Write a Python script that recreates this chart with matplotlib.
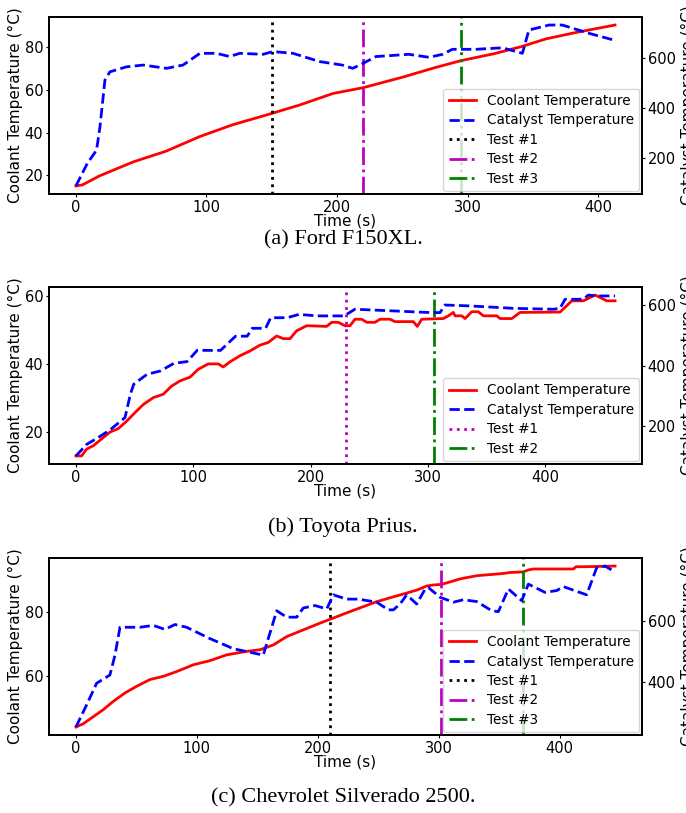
import numpy as np
import matplotlib
matplotlib.use("Agg")
import matplotlib.pyplot as plt
from matplotlib.ticker import MultipleLocator, FixedLocator

# ---- (a) Ford F150XL ----
t_a_cool = [0, 5, 18, 44, 69, 95, 120, 146, 171, 197, 220, 250, 275, 295, 320, 342, 360, 383, 400, 413]
a_cool = [15, 15.5, 19.7, 26.3, 31.3, 38.2, 43.7, 48.3, 52.9, 58.4, 61.1, 66, 70.5, 73.8, 77, 80.5, 84, 87, 89, 90.5]
t_a_cat = [0, 8.7, 15.8, 18.4, 22.2, 26, 38.7, 51.5, 69.4, 82, 95, 107.6, 117.8, 125.5, 143.3, 150.9, 166.2,
           186.7, 204, 212, 220, 229.8, 255, 270.6, 280.8, 288.4, 306.3, 326.7, 342, 347, 362.4, 372.6, 393, 412]
a_cat = [90, 180, 233, 326, 513, 546, 566, 573, 560, 573, 620, 620, 607, 620, 616, 627, 620,
         587, 573, 560, 580, 607, 616, 604, 616, 636, 636, 642, 620, 713, 733, 733, 700, 673]
a_tests = [150, 220, 295]

# ---- (b) Toyota Prius ----
t_b_cool = [0, 4.8, 9.1, 14.8, 21.9, 29, 36, 43.2, 50.3, 57.4, 65.9, 74.4, 81.5, 88.6, 97.1, 104.2, 112.7,
            121.3, 125.5, 131.2, 139.8, 148.3, 156.8, 163.9, 171, 176.7, 182.4, 188, 196.6, 213.6, 217.9,
            223.5, 229.2, 233.5, 237.7, 243.4, 247.7, 254.8, 259, 267.6, 271.8, 287.4, 290.8, 294.6, 313,
            317.3, 321.5, 323, 328.7, 331.5, 337.2, 342.8, 347.1, 358.5, 361.3, 371.3, 378.4, 412.4, 416.7,
            422.4, 432.3, 442.3, 446.5, 452.2, 459.3]
b_cool = [13, 13, 15, 16, 18, 20, 21, 23.2, 25.7, 28.1, 30.1, 31.1, 33.5, 35, 36.1, 38.4, 40,
          40, 39.1, 40.6, 42.4, 43.8, 45.5, 46.3, 48.2, 47.4, 47.4, 49.7, 51.2, 51, 52.2,
          52.2, 51.2, 51.2, 53.1, 53.1, 52.2, 52.2, 53.1, 53.1, 52.4, 52.4, 51, 53.1, 53.3,
          54.1, 55.1, 54.1, 54.1, 53.3, 55.3, 55.3, 54.1, 54.1, 53.3, 53.3, 55.1, 55.2, 56.6,
          58.5, 58.5, 60.2, 59.5, 58.5, 58.5]
t_b_cat = [0, 9.1, 19, 29, 41.8, 46.4, 49.2, 60.6, 72, 83.4, 94.7, 103.3, 123.2, 136, 145.9, 150.2, 161.6,
           165.9, 180, 190, 205.7, 228.4, 237.7, 273.3, 301.7, 310.2, 314.4, 335.7, 372.6, 406.7, 412.4,
           416.7, 432.3, 436.5, 443.7, 459.3]
b_cat = [102, 140, 163, 188, 229, 306, 339, 372, 383, 408, 414, 451, 451, 498, 498, 524, 524,
         559, 559, 570, 565, 565, 587, 581, 576, 576, 601, 598, 590, 587, 590,
         620, 620, 634, 631, 631]
b_tests = [230, 305]

# ---- (c) Chevrolet Silverado 2500 ----
t_c_cool = [0, 6, 14.3, 22.6, 30.9, 40.5, 50.2, 61.2, 72.2, 83.3, 97, 110.8, 124.6, 141.2, 152.2, 163.2,
            174.3, 188, 201.8, 215.6, 226.6, 248.7, 268, 281.8, 290.1, 295.5, 302.5, 317.6, 331.4, 353.4,
            359, 370, 374.1, 378.3, 411.3, 413.6, 419.6, 445.8]
c_cool = [44, 45, 47.2, 49.4, 52, 54.6, 56.7, 58.8, 59.8, 61.3, 63.4, 64.7, 66.5, 67.6, 68.1, 69.6,
          72.2, 74.3, 76.4, 78.4, 80, 83.1, 85.2, 86.7, 88, 88.3, 88.5, 90.2, 91.2, 91.9,
          92.2, 92.4, 93, 93.3, 93.3, 94, 94, 94.2]
t_c_cat = [0, 8.8, 17.1, 28.1, 32.3, 36.4, 52.9, 64, 73.6, 81.9, 91.5, 110.8, 130.1, 146.6, 154.9, 166,
           174.3, 182.5, 188, 197.7, 207.4, 212.8, 223.9, 233.5, 248.7, 258.3, 262.5, 268, 273.5, 281.8,
           288.7, 291.4, 301.1, 312.1, 320.4, 331.4, 343.8, 349.3, 357.6, 368.6, 374.1, 387.9, 397.6,
           403, 422.3, 430.6, 437.5, 445.8]
c_cat = [252, 324, 395, 422, 487, 578, 578, 584, 571, 587, 578, 541, 508, 494, 487, 632,
         611, 611, 641, 649, 638, 684, 670, 670, 660, 635, 635, 654, 684, 654,
         703, 708, 676, 660, 668, 662, 632, 629, 703, 665, 719, 692, 698,
         711, 684, 773, 778, 759]
c_tests = [210, 302, 370]

captions = ["(a) Ford F150XL.", "(b) Toyota Prius.", "(c) Chevrolet Silverado 2500."]
cat_ticks = [200, 400, 600]

# test line styles: (color, linestyle)
style3 = [("black", ":"), ("m", "-."), ("g", (0, (6.4, 1.6, 1, 1.6, 1, 1.6)))]
style2 = [("m", ":"), ("g", "-.")]

plt.rcParams['font.size'] = 11
plt.rcParams['axes.linewidth'] = 1.4
plt.rcParams['xtick.major.size'] = 2.5
plt.rcParams['ytick.major.size'] = 2.5
plt.rcParams['xtick.major.pad'] = 1.5
plt.rcParams['ytick.major.pad'] = 1.5
plt.rcParams['xtick.labelsize'] = 10.5
plt.rcParams['ytick.labelsize'] = 10.5

fig = plt.figure(figsize=(6.86, 8.13), dpi=100)

# axes boxes in figure fraction: left, bottom, width, height
boxes = [[0.0714, 0.7614, 0.8645, 0.2177],
         [0.0714, 0.4293, 0.8645, 0.2177],
         [0.0714, 0.0959, 0.8645, 0.2177]]
cap_y = [0.7048, 0.3518, 0.0185]

panels = [(t_a_cool, a_cool, t_a_cat, a_cat, a_tests, style3),
          (t_b_cool, b_cool, t_b_cat, b_cat, b_tests, style2),
          (t_c_cool, c_cool, t_c_cat, c_cat, c_tests, style3)]

for i, (tc, cool, tk, cat, tests, sty) in enumerate(panels):
    ax = fig.add_axes(boxes[i])
    l1, = ax.plot(tc, cool, color="red", lw=2, label="Coolant Temperature")
    handles = []
    for j, x in enumerate(tests):
        col, ls = sty[j]
        h = ax.axvline(x, color=col, ls=ls, lw=2, label="Test #%d" % (j + 1))
        handles.append(h)
    ax.set_ylabel("Coolant Temperature (°C)", labelpad=1)
    ax.set_xlabel("Time (s)", labelpad=-1)
    ax.xaxis.set_major_locator(MultipleLocator(100))
    ax.yaxis.set_major_locator(MultipleLocator(20))

    ax2 = ax.twinx()
    l2, = ax2.plot(tk, cat, color="blue", ls="--", lw=2, label="Catalyst Temperature")
    ax2.set_ylabel("Catalyst Temperature (°C)", labelpad=4)
    ax2.yaxis.set_major_locator(FixedLocator(cat_ticks))

    ax2.legend(handles=[l1, l2] + handles, loc="lower right", fontsize=9.8,
               borderaxespad=0.2, labelspacing=0.4)

    fig.text(0.5, cap_y[i], captions[i], ha="center", va="center",
             family="Liberation Serif", fontsize=16)

fig.savefig("out.png", dpi=100)
